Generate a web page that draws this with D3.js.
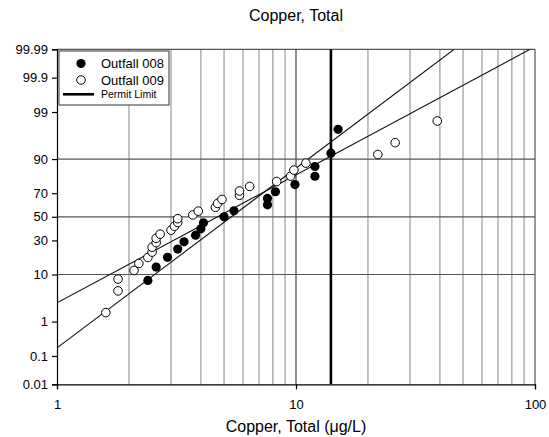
<!DOCTYPE html>
<html>
<head>
<meta charset="utf-8">
<script src="https://cdn.jsdelivr.net/npm/d3@7"></script>
<style>
  html, body { margin: 0; padding: 0; background: #fff; }
  svg { display: block; font-family: "Liberation Sans", Arial, sans-serif; }
</style>
</head>
<body>
<svg id="chart" width="549" height="437"></svg>
<script>
// ---- Data ----
// Outfall 008: concentration (µg/L) and cumulative probability (%)
const outfall008X = [2.4, 2.6, 2.9, 3.2, 3.4, 3.8, 4.0, 4.1, 5.0, 5.5, 7.6, 7.6, 8.2, 9.9, 12.0, 12.0, 14.0, 15.0];
const outfall008P = [7.9, 13.2, 18.4, 23.7, 28.9, 34.2, 39.5, 44.7, 50.0, 55.3, 60.5, 65.8, 71.1, 76.3, 81.6, 86.8, 92.1, 97.4];
// Outfall 009
const outfall009X = [1.6, 1.8, 1.8, 2.1, 2.2, 2.4, 2.5, 2.5, 2.6, 2.6, 2.7, 3.0, 3.1, 3.2, 3.2, 3.7, 3.9, 4.6, 4.7, 4.9, 5.8, 5.8, 6.4, 8.3, 9.5, 9.8, 11.0, 22.0, 26.0, 39.0];
const outfall009P = [1.67, 5.0, 8.33, 11.67, 15.0, 18.33, 21.67, 25.0, 28.33, 31.67, 35.0, 38.33, 41.67, 45.0, 48.33, 51.67, 55.0, 58.33, 61.67, 65.0, 68.33, 71.67, 75.0, 78.33, 81.67, 85.0, 88.33, 91.67, 95.0, 98.33];
// Fitted lines (end points: concentration, probability %)
const fit008X = [1, 45.9];
const fit008P = [0.18, 99.99];
const fit009X = [1, 95.3];
const fit009P = [2.8, 99.99];
// Permit limit (µg/L)
const permitLimit = 14;
// Axis ticks
const xTicks = [1, 10, 100];
const xGrid = [2, 3, 4, 5, 6, 7, 8, 9, 10, 20, 30, 40, 50, 60, 70, 80, 90];
const yTicks = [0.01, 0.1, 1, 10, 30, 50, 70, 90, 99, 99.9, 99.99];
const yTickLabels = ["0.01", "0.1", "1", "10", "30", "50", "70", "90", "99", "99.9", "99.99"];
const yGrid = [10, 50, 90];
const legendLabels = ["Outfall 008", "Outfall 009", "Permit Limit"];

// ---- Inverse normal CDF (Acklam) ----
function qnorm(p) {
  const a = [-3.969683028665376e+01, 2.209460984245205e+02, -2.759285104469687e+02, 1.383577518672690e+02, -3.066479806614716e+01, 2.506628277459239e+00];
  const b = [-5.447609879822406e+01, 1.615858368580409e+02, -1.556989798598866e+02, 6.680131188771972e+01, -1.328068155288572e+01];
  const c = [-7.784894002430293e-03, -3.223964580411365e-01, -2.400758277161838e+00, -2.549732539343734e+00, 4.374664141464968e+00, 2.938163982698783e+00];
  const d = [7.784695709041462e-03, 3.224671290700398e-01, 2.445134137142996e+00, 3.754408661907416e+00];
  const pl = 0.02425, ph = 1 - pl;
  let q, r;
  if (p < pl) {
    q = Math.sqrt(-2 * Math.log(p));
    return (((((c[0]*q+c[1])*q+c[2])*q+c[3])*q+c[4])*q+c[5]) / ((((d[0]*q+d[1])*q+d[2])*q+d[3])*q+1);
  } else if (p <= ph) {
    q = p - 0.5; r = q*q;
    return (((((a[0]*r+a[1])*r+a[2])*r+a[3])*r+a[4])*r+a[5])*q / (((((b[0]*r+b[1])*r+b[2])*r+b[3])*r+b[4])*r+1);
  } else {
    q = Math.sqrt(-2 * Math.log(1 - p));
    return -(((((c[0]*q+c[1])*q+c[2])*q+c[3])*q+c[4])*q+c[5]) / ((((d[0]*q+d[1])*q+d[2])*q+d[3])*q+1);
  }
}
const z = p => qnorm(p / 100);

// ---- Layout ----
const svg = d3.select("#chart");
const margin = { left: 57, right: 14, top: 49.3, bottom: 52.7 };
const W = 549, H = 437;
const iw = W - margin.left - margin.right;
const ih = H - margin.top - margin.bottom;

const x = d3.scaleLog().domain([1, 100]).range([0, iw]);
const yz = d3.scaleLinear().domain([z(0.01), z(99.99)]).range([ih, 0]);
const y = p => yz(z(p));

const g = svg.append("g").attr("transform", `translate(${margin.left},${margin.top})`);

// clip
svg.append("defs").append("clipPath").attr("id", "clip")
  .append("rect").attr("width", iw).attr("height", ih);

// vertical grid
g.selectAll(".vgrid").data(xGrid).join("line")
  .attr("x1", d => x(d)).attr("x2", d => x(d))
  .attr("y1", 0).attr("y2", ih)
  .attr("stroke", d => d === 10 ? "#444" : "#9a9a9a")
  .attr("stroke-width", d => d === 10 ? 1.2 : 1.2);

// horizontal grid
g.selectAll(".hgrid").data(yGrid).join("line")
  .attr("x1", 0).attr("x2", iw)
  .attr("y1", d => y(d)).attr("y2", d => y(d))
  .attr("stroke", "#555").attr("stroke-width", 1.2);

// top/right border
g.append("line").attr("x1", 0).attr("x2", iw).attr("y1", 0).attr("y2", 0)
  .attr("stroke", "#555").attr("stroke-width", 1.2);
g.append("line").attr("x1", iw).attr("x2", iw).attr("y1", 0).attr("y2", ih)
  .attr("stroke", "#555").attr("stroke-width", 1.2);

// axes
const xAxis = d3.axisBottom(x).tickValues(xTicks).tickFormat(d3.format("d")).tickSize(5).tickPadding(10);
const gx = g.append("g").attr("transform", `translate(0,${ih})`).call(xAxis);
const yAxis = d3.axisLeft(yz).tickValues(yTicks.map(z))
  .tickFormat((d, i) => yTickLabels[i]).tickSize(5).tickPadding(4);
const gy = g.append("g").call(yAxis);
[gx, gy].forEach(a => {
  a.select(".domain").attr("stroke", "#000").attr("stroke-width", 1.2);
  a.selectAll(".tick line").attr("stroke", "#000").attr("stroke-width", 1.2);
  a.selectAll("text").attr("font-size", 13).attr("fill", "#000")
    .attr("font-family", "Liberation Sans, Arial, sans-serif");
});

// fit lines
const lineGen = d3.line().x(d => x(d[0])).y(d => y(d[1]));
const plot = g.append("g").attr("clip-path", "url(#clip)");
[[fit008X, fit008P], [fit009X, fit009P]].forEach(([xs, ps]) => {
  plot.append("path").datum(xs.map((v, i) => [v, ps[i]]))
    .attr("d", lineGen).attr("fill", "none").attr("stroke", "#111").attr("stroke-width", 1.1);
});

// permit limit
g.append("line")
  .attr("x1", x(permitLimit)).attr("x2", x(permitLimit))
  .attr("y1", 0).attr("y2", ih)
  .attr("stroke", "#000").attr("stroke-width", 2.6);

// points
const pts008 = outfall008X.map((v, i) => [v, outfall008P[i]]);
const pts009 = outfall009X.map((v, i) => [v, outfall009P[i]]);
g.selectAll(".p009").data(pts009).join("circle")
  .attr("cx", d => x(d[0])).attr("cy", d => y(d[1])).attr("r", 4.3)
  .attr("fill", "#fff").attr("stroke", "#000").attr("stroke-width", 1);
g.selectAll(".p008").data(pts008).join("circle")
  .attr("cx", d => x(d[0])).attr("cy", d => y(d[1])).attr("r", 4.6)
  .attr("fill", "#000");

// legend
const lg = svg.append("g").attr("transform", "translate(59,51)");
lg.append("rect").attr("width", 110).attr("height", 54)
  .attr("fill", "#fff").attr("stroke", "#555").attr("stroke-width", 1.2);
lg.append("circle").attr("cx", 22).attr("cy", 12.5).attr("r", 4.6).attr("fill", "#000");
lg.append("circle").attr("cx", 22).attr("cy", 29).attr("r", 4.3).attr("fill", "#fff").attr("stroke", "#000");
lg.append("line").attr("x1", 4).attr("x2", 35).attr("y1", 43.3).attr("y2", 43.3)
  .attr("stroke", "#000").attr("stroke-width", 2.6);
lg.append("text").attr("x", 42).attr("y", 17).attr("font-size", 13).text(legendLabels[0]);
lg.append("text").attr("x", 42).attr("y", 33.5).attr("font-size", 13).text(legendLabels[1]);
lg.append("text").attr("x", 42).attr("y", 47).attr("font-size", 10.5).text(legendLabels[2]);

// title
svg.append("text").attr("x", margin.left + iw / 2).attr("y", 21)
  .attr("text-anchor", "middle").attr("font-size", 16).text("Copper, Total");
// x label
svg.append("text").attr("x", margin.left + iw / 2).attr("y", 432)
  .attr("text-anchor", "middle").attr("font-size", 16).text("Copper, Total (μg/L)");
</script>
</body>
</html>
